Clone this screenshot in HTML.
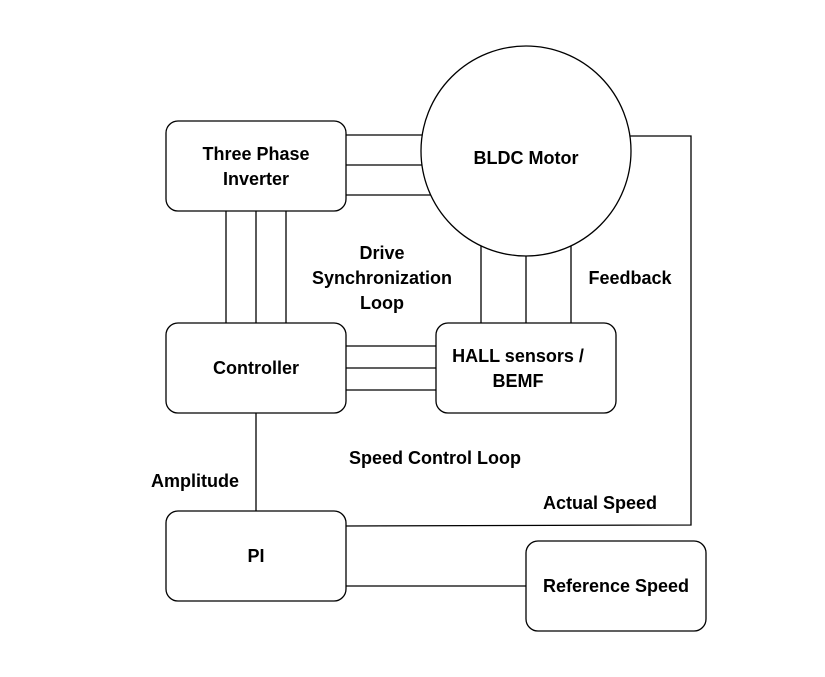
<!DOCTYPE html>
<html><head><style>body{margin:0;background:#fff}svg{display:block}</style></head><body>
<svg width="825" height="677" xmlns="http://www.w3.org/2000/svg" font-family="Liberation Sans, Arial, sans-serif" font-weight="bold" font-size="18" text-anchor="middle">
<g stroke="#000" stroke-width="1.3" fill="none">
<line x1="346" y1="135" x2="500" y2="135"/>
<line x1="346" y1="165" x2="500" y2="165"/>
<line x1="346" y1="195" x2="500" y2="195"/>
<line x1="226" y1="211" x2="226" y2="323"/>
<line x1="256" y1="211" x2="256" y2="323"/>
<line x1="286" y1="211" x2="286" y2="323"/>
<line x1="346" y1="346" x2="436" y2="346"/>
<line x1="346" y1="368" x2="436" y2="368"/>
<line x1="346" y1="390" x2="436" y2="390"/>
<line x1="481" y1="200" x2="481" y2="323"/>
<line x1="526" y1="200" x2="526" y2="323"/>
<line x1="571" y1="200" x2="571" y2="323"/>
<polyline points="600,136 691,136 691,525 346,526"/>
<line x1="256" y1="413" x2="256" y2="511"/>
<line x1="346" y1="586" x2="526" y2="586"/>
<circle cx="526" cy="151" r="105" fill="#fff"/>
<rect x="166" y="121" width="180" height="90" rx="12" fill="#fff"/>
<rect x="166" y="323" width="180" height="90" rx="12" fill="#fff"/>
<rect x="436" y="323" width="180" height="90" rx="12" fill="#fff"/>
<rect x="166" y="511" width="180" height="90" rx="12" fill="#fff"/>
<rect x="526" y="541" width="180" height="90" rx="12" fill="#fff"/>
</g>
<g fill="#000">
<text x="256" y="160">Three Phase</text>
<text x="256" y="185">Inverter</text>
<text x="526" y="164">BLDC Motor</text>
<text x="382" y="259">Drive</text>
<text x="382" y="284">Synchronization</text>
<text x="382" y="309">Loop</text>
<text x="630" y="284">Feedback</text>
<text x="256" y="374">Controller</text>
<text x="518" y="362">HALL sensors /</text>
<text x="518" y="387">BEMF</text>
<text x="435" y="464">Speed Control Loop</text>
<text x="195" y="487">Amplitude</text>
<text x="600" y="509">Actual Speed</text>
<text x="256" y="562">PI</text>
<text x="616" y="592">Reference Speed</text>
</g>
</svg>
</body></html>
